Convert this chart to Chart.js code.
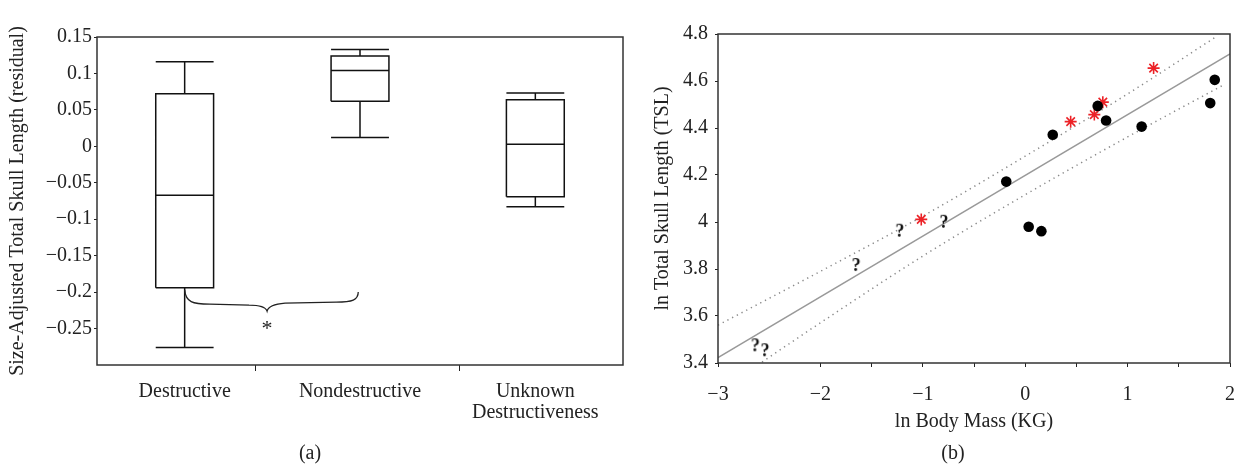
<!DOCTYPE html>
<html>
<head>
<meta charset="utf-8">
<script src="https://cdn.jsdelivr.net/npm/chart.js@4.4.1/dist/chart.umd.min.js"></script>
<style>
  body { margin: 0; background: #fff; width: 1251px; height: 464px; overflow: hidden; position: relative;
         font-family: "Liberation Serif", serif; color: #222; }
  .panel { position: absolute; top: 0; height: 464px; }
  #left { left: 0; width: 630px; }
  #right { left: 630px; width: 621px; }
  .cap { position: absolute; top: 441px; font-size: 20px; line-height: 23px; transform: translateX(-50%); }
</style>
</head>
<body>
<div class="panel" id="left"><canvas id="boxChart" width="630" height="464"></canvas></div>
<div class="panel" id="right"><canvas id="fitChart" width="621" height="464"></canvas></div>
<div class="cap" style="left:310px">(a)</div>
<div class="cap" style="left:953px">(b)</div>
<script>
// (a) box plot: residual skull length by group
const groups = ['Destructive', 'Nondestructive', ['Unknown', 'Destructiveness']];
const whiskerLow = [-0.276, 0.012, -0.083];
const quart1 = [-0.194, 0.062, -0.069];
const median = [-0.067, 0.104, 0.003];
const quart3 = [0.072, 0.124, 0.064];
const whiskerHigh = [0.116, 0.133, 0.073];
const boxTickMarks = [1, 1.405, 2, 2.565, 3];

// significance brace between Destructive and Nondestructive
const braceStart = { x: 1, y: -0.197 };
const braceTip = { x: 1.47, y: -0.226 };
const braceEnd = { x: 1.99, y: -0.2 };
const sigMark = { x: 1.47, y: -0.245, text: '*' };

// (b) ln TSL against ln body mass
const massKnown = [1.851, 1.807, 0.708, 0.790, 1.137, 0.269, -0.185, 0.034, 0.158];
const tslKnown = [4.605, 4.506, 4.494, 4.432, 4.406, 4.371, 4.172, 3.980, 3.961];
const massRed = [1.254, 0.758, 0.675, 0.444, -1.015];
const tslRed = [4.655, 4.510, 4.457, 4.427, 4.011];
const massUnknown = [-1.224, -1.650, -2.635, -2.540, -0.793];
const tslUnknown = [3.963, 3.817, 3.475, 3.454, 4.001];
const fitX = [-3, 2];
const fitY = [3.423, 4.715];
const bandUpX = [-3, -2, -1, 0, 1, 1.86];
const bandUpY = [3.561, 3.79, 4.025, 4.28, 4.545, 4.787];
const bandLoX = [-2.57, -2, -1, 0, 1, 1.94];
const bandLoY = [3.404, 3.571, 3.855, 4.116, 4.362, 4.584];
const massTicks = [-3, -2, -1.5, -1, -0.5, 0, 0.5, 1, 1.5, 2];

Chart.defaults.font.family = '"Liberation Serif", serif';
Chart.defaults.font.size = 20;
Chart.defaults.color = '#222';

const ink = '#222';
const clear = 'rgba(0,0,0,0)';
const minus = (v, digits) => {
    const r = Math.round(v * digits) / digits;
    return r < 0 ? '\u2212' + Math.abs(r) : String(r);
};
const xy = (xs, ys) => xs.map((x, i) => ({ x, y: ys[i] }));

// frame round the plot area
const frame = {
    id: 'frame',
    afterDatasetsDraw(chart) {
        const { ctx, chartArea: a } = chart;
        ctx.save();
        ctx.strokeStyle = '#333';
        ctx.lineWidth = 1.5;
        ctx.strokeRect(a.left, a.top, a.right - a.left, a.bottom - a.top);
        ctx.restore();
    }
};

// outline of each box with median, whiskers and caps
const half = 0.165;
const boxPath = [];
groups.forEach((g, i) => {
    const c = i + 1;
    const gap = { x: c, y: null };
    boxPath.push(
        { x: c - half, y: quart1[i] }, { x: c + half, y: quart1[i] }, { x: c + half, y: quart3[i] },
        { x: c - half, y: quart3[i] }, { x: c - half, y: quart1[i] }, gap,
        { x: c - half, y: median[i] }, { x: c + half, y: median[i] }, gap,
        { x: c, y: quart3[i] }, { x: c, y: whiskerHigh[i] }, gap,
        { x: c - half, y: whiskerHigh[i] }, { x: c + half, y: whiskerHigh[i] }, gap,
        { x: c, y: quart1[i] }, { x: c, y: whiskerLow[i] }, gap,
        { x: c - half, y: whiskerLow[i] }, { x: c + half, y: whiskerLow[i] }, gap
    );
});

const brace = {
    id: 'brace',
    afterDatasetsDraw(chart) {
        const { ctx, scales: { x, y } } = chart;
        const s = { x: x.getPixelForValue(braceStart.x), y: y.getPixelForValue(braceStart.y) };
        const t = { x: x.getPixelForValue(braceTip.x), y: y.getPixelForValue(braceTip.y) };
        const e = { x: x.getPixelForValue(braceEnd.x), y: y.getPixelForValue(braceEnd.y) };
        const flatL = t.y - 7, flatR = t.y - 9;
        ctx.save();
        ctx.strokeStyle = ink;
        ctx.lineWidth = 1.3;
        ctx.beginPath();
        ctx.moveTo(s.x, s.y);
        ctx.bezierCurveTo(s.x + 1, flatL - 2, s.x + 8, flatL, s.x + 25, flatL);
        ctx.lineTo(t.x - 18, flatL + 1);
        ctx.bezierCurveTo(t.x - 6, flatL + 1, t.x - 1, t.y - 3, t.x, t.y);
        ctx.bezierCurveTo(t.x + 1, t.y - 4, t.x + 6, flatR + 2, t.x + 18, flatR + 1);
        ctx.lineTo(e.x - 22, flatR);
        ctx.bezierCurveTo(e.x - 6, flatR, e.x, flatR - 2, e.x, e.y);
        ctx.stroke();
        ctx.font = '22px "Liberation Serif", serif';
        ctx.fillStyle = ink;
        ctx.textAlign = 'center';
        ctx.textBaseline = 'alphabetic';
        const m = ctx.measureText(sigMark.text);
        const cy = y.getPixelForValue(sigMark.y);
        ctx.fillText(sigMark.text, x.getPixelForValue(sigMark.x),
            cy + (m.actualBoundingBoxAscent - m.actualBoundingBoxDescent) / 2);
        ctx.restore();
    }
};

new Chart(document.getElementById('boxChart'), {
    type: 'scatter',
    data: {
        datasets: [{
            data: boxPath,
            showLine: true,
            spanGaps: false,
            borderColor: '#111',
            borderWidth: 1.5,
            pointRadius: 0,
            pointHoverRadius: 0
        }]
    },
    options: {
        responsive: false,
        animation: false,
        layout: { padding: { left: 0, top: 37, right: 7, bottom: 0 } },
        plugins: { legend: { display: false }, tooltip: { enabled: false } },
        scales: {
            x: {
                type: 'linear',
                min: 0.5,
                max: 3.5,
                afterBuildTicks: (scale) => { scale.ticks = boxTickMarks.map(v => ({ value: v })); },
                afterFit: (scale) => { scale.height = 99; },
                border: { display: false },
                grid: {
                    drawOnChartArea: false,
                    tickLength: 6,
                    tickColor: (ctx) => Number.isInteger(ctx.tick && ctx.tick.value) ? clear : ink
                },
                ticks: {
                    autoSkip: false,
                    maxRotation: 0,
                    padding: 10,
                    font: { size: 20, lineHeight: 1.05 },
                    callback: (v) => Number.isInteger(v) ? groups[v - 1] : ''
                }
            },
            y: {
                min: -0.3,
                max: 0.15,
                afterFit: (scale) => { scale.width = 97; },
                border: { display: false },
                grid: {
                    drawOnChartArea: false,
                    tickLength: 3,
                    tickColor: (ctx) => ctx.tick && Math.round(ctx.tick.value * 100) === -30 ? clear : ink
                },
                ticks: {
                    stepSize: 0.05,
                    padding: 2,
                    callback: (v) => Math.round(v * 100) === -30 ? '' : minus(v, 100)
                },
                title: {
                    display: true,
                    text: 'Size-Adjusted Total Skull Length (residual)',
                    padding: { top: 6, bottom: 0 },
                    font: { size: 20 }
                }
            }
        }
    },
    plugins: [frame, brace]
});

// small canvas with a "?" used as point marker
function glyph(ch, font, color) {
    const c = document.createElement('canvas');
    c.width = 14;
    c.height = 20;
    const g = c.getContext('2d');
    g.font = font;
    g.fillStyle = color;
    g.textAlign = 'center';
    g.textBaseline = 'middle';
    g.fillText(ch, 7, 11);
    return c;
}

new Chart(document.getElementById('fitChart'), {
    type: 'scatter',
    data: {
        datasets: [
            {
                data: xy(massKnown, tslKnown),
                pointStyle: 'circle',
                pointRadius: 5.3,
                backgroundColor: '#000',
                borderColor: '#000',
                borderWidth: 0
            },
            {
                data: xy(massRed, tslRed),
                pointStyle: 'star',
                pointRadius: 6,
                borderColor: '#ec2227',
                borderWidth: 1.6
            },
            {
                data: xy(massUnknown, tslUnknown),
                pointStyle: glyph('?', 'bold 18px "Liberation Serif", serif', '#111'),
                pointRadius: 6
            },
            {
                data: xy(fitX, fitY),
                showLine: true,
                borderColor: '#999',
                borderWidth: 1.5,
                pointRadius: 0
            },
            {
                data: xy(bandUpX, bandUpY),
                showLine: true,
                cubicInterpolationMode: 'monotone',
                borderColor: '#8a8a8a',
                borderWidth: 1.5,
                borderDash: [1.3, 4],
                pointRadius: 0
            },
            {
                data: xy(bandLoX, bandLoY),
                showLine: true,
                cubicInterpolationMode: 'monotone',
                borderColor: '#8a8a8a',
                borderWidth: 1.5,
                borderDash: [1.3, 4],
                pointRadius: 0
            }
        ]
    },
    options: {
        responsive: false,
        animation: false,
        layout: { padding: { left: 0, top: 34, right: 9, bottom: 0 } },
        plugins: { legend: { display: false }, tooltip: { enabled: false } },
        scales: {
            x: {
                min: -3,
                max: 2,
                afterBuildTicks: (scale) => { scale.ticks = massTicks.map(v => ({ value: v })); },
                afterFit: (scale) => { scale.height = 101; },
                border: { display: false },
                grid: { drawOnChartArea: false, tickLength: 4, tickColor: ink },
                ticks: {
                    autoSkip: false,
                    maxRotation: 0,
                    padding: 16,
                    callback: (v) => Number.isInteger(v) ? minus(v, 1) : ''
                },
                title: {
                    display: true,
                    text: 'ln Body Mass (KG)',
                    padding: { top: 0, bottom: 30 },
                    font: { size: 20 }
                }
            },
            y: {
                min: 3.4,
                max: 4.8,
                afterFit: (scale) => { scale.width = 88; },
                border: { display: false },
                grid: { drawOnChartArea: false, tickLength: 3, tickColor: ink },
                ticks: {
                    stepSize: 0.2,
                    padding: 7,
                    callback: (v) => minus(v, 10)
                },
                title: {
                    display: true,
                    text: 'ln Total Skull Length (TSL)',
                    padding: { top: 21, bottom: 0 },
                    font: { size: 20 }
                }
            }
        }
    },
    plugins: [frame]
});
</script>
</body>
</html>
